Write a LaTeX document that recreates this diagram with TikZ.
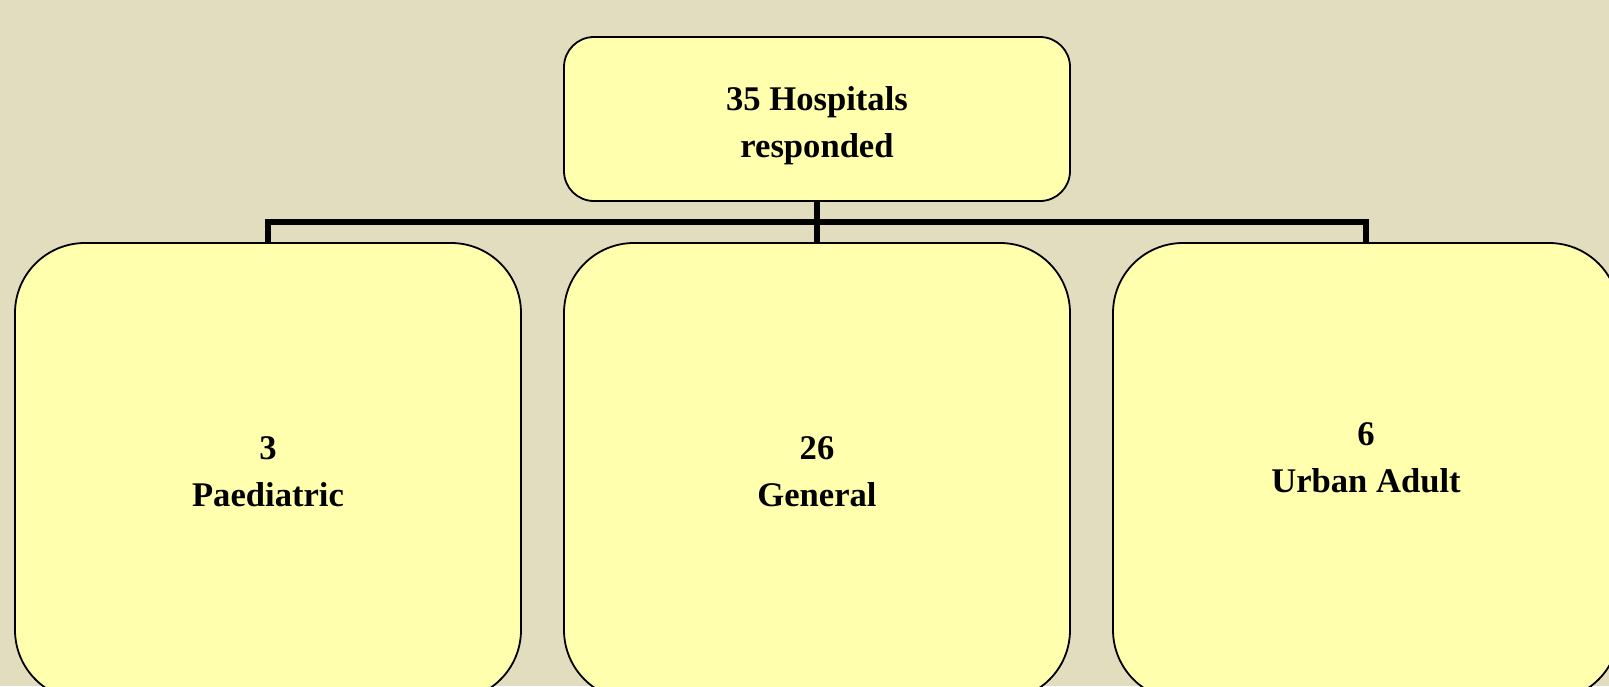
\documentclass[tikz,border=0pt]{standalone}
\usepackage{fontspec}
\setmainfont{Liberation Serif}
\definecolor{bgcol}{RGB}{226,221,190}
\definecolor{boxfill}{RGB}{255,255,173}
\begin{document}
\begin{tikzpicture}[x=1pt,y=1pt,
  txtstyle/.style={font=\fontsize{17.3}{23.5}\selectfont\bfseries, align=center, text=black},
  topbox/.style={draw=black, line width=0.9pt, fill=boxfill, rounded corners=15pt,
    minimum width=253pt, minimum height=82pt, inner sep=0pt, txtstyle},
  bigbox/.style={draw=black, line width=0.9pt, fill=boxfill, rounded corners=35pt,
    minimum width=253pt, minimum height=228.5pt, inner sep=0pt, txtstyle},
  conn/.style={draw=black, line width=2.6pt, line join=miter}]
\useasboundingbox (0,0) rectangle (804.5,-343);
\clip (0,0) rectangle (804.5,-343);
\fill[bgcol] (0,0) rectangle (804.5,-343);
\coordinate (bus) at (0,-111);
\node[topbox] (top) at (408.5,-59.5) {};
\node[txtstyle] (toplbl) at ([yshift=-3.3pt]top.center) {35 Hospitals\\responded};
\node[bigbox] (paed) at (134,-235.75) {3\\Paediatric};
\node[bigbox] (gen) at (408.5,-235.75) {26\\General};
\node[bigbox] (urban) at (683,-235.75) {};
\node[txtstyle] (urbanlbl) at ([yshift=7pt]urban.center) {6\\Urban Adult};
\draw[conn] (top.south) -- (gen.north);
\draw[conn] (paed.north) -- (paed.north |- bus) -- (urban.north |- bus) -- (urban.north);
\end{tikzpicture}
\end{document}
